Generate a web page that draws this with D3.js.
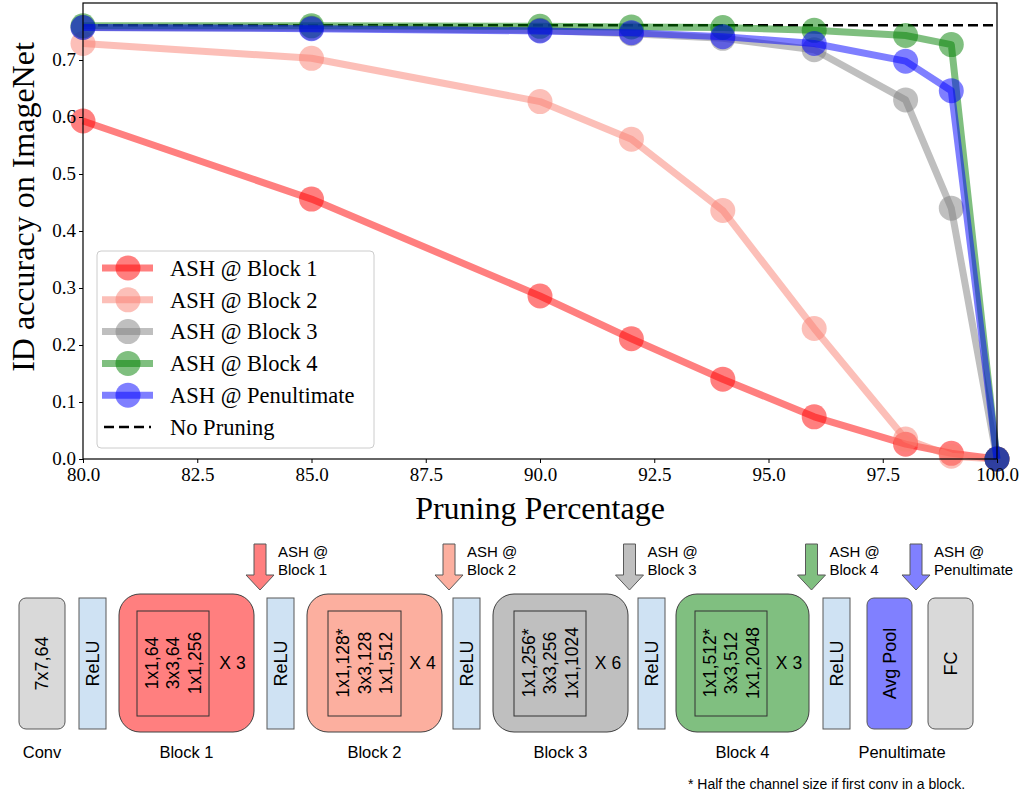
<!DOCTYPE html>
<html>
<head>
<meta charset="utf-8">
<script src="https://cdn.jsdelivr.net/npm/d3@7"></script>
<style>
  html, body { margin: 0; padding: 0; background: #fff; }
  svg { display: block; }
</style>
</head>
<body>
<svg id="chart" width="1026" height="793"></svg>
<script>
// Pruning percentage sampled for each ASH placement
const pruning = [80, 85, 90, 92, 94, 96, 98, 99, 100];

// ID accuracy on ImageNet per ASH placement
const block1 = [0.593, 0.456, 0.286, 0.211, 0.140, 0.074, 0.026, 0.010, 0.0];
const block2 = [0.729, 0.703, 0.627, 0.561, 0.436, 0.229, 0.035, 0.005, 0.0];
const block3 = [0.757, 0.756, 0.752, 0.746, 0.738, 0.718, 0.630, 0.440, 0.0];
const block4 = [0.760, 0.760, 0.759, 0.758, 0.757, 0.752, 0.743, 0.727, 0.0];
const penultimate = [0.757, 0.755, 0.751, 0.748, 0.741, 0.729, 0.698, 0.646, 0.0];
const noPruning = 0.761;

const seriesNames = ["ASH @ Block 1", "ASH @ Block 2", "ASH @ Block 3", "ASH @ Block 4", "ASH @ Penultimate"];
const seriesValues = [block1, block2, block3, block4, penultimate];
const seriesColors = ["red", "salmon", "gray", "green", "blue"];

const xTicks = [80, 82.5, 85, 87.5, 90, 92.5, 95, 97.5, 100];
const yTicks = [0, 0.1, 0.2, 0.3, 0.4, 0.5, 0.6, 0.7];

// Network diagram contents
const blockLabels = ["Block 1", "Block 2", "Block 3", "Block 4"];
const blockLayers = [
  ["1x1,64", "3x3,64", "1x1,256"],
  ["1x1,128*", "3x3,128", "1x1,512"],
  ["1x1,256*", "3x3,256", "1x1,1024"],
  ["1x1,512*", "3x3,512", "1x1,2048"]
];
const blockRepeats = ["X 3", "X 4", "X 6", "X 3"];
const arrowLabels = ["Block 1", "Block 2", "Block 3", "Block 4", "Penultimate"];

const svg = d3.select("#chart");
const serif = "'Liberation Serif', 'DejaVu Serif', serif";
const sans = "'Liberation Sans', Arial, sans-serif";

// ---------- Line chart ----------
const plot = { left: 83, right: 997, top: 3, bottom: 459 };
const x = d3.scaleLinear().domain([80, 100]).range([plot.left, plot.right]);
const y = d3.scaleLinear().domain([0, 0.8]).range([plot.bottom, plot.top]);

const chart = svg.append("g");

chart.append("rect")
  .attr("x", plot.left).attr("y", plot.top)
  .attr("width", plot.right - plot.left).attr("height", plot.bottom - plot.top)
  .attr("fill", "#fff");

const marks = chart.append("g");

// reference line without pruning
marks.append("line")
  .attr("x1", x(80)).attr("x2", x(100))
  .attr("y1", y(noPruning)).attr("y2", y(noPruning))
  .attr("stroke", "#000").attr("stroke-width", 2.6)
  .attr("stroke-dasharray", "10,5");

const line = d3.line().x((d, i) => x(pruning[i])).y(d => y(d));

seriesValues.forEach((vals, k) => {
  const g = marks.append("g");
  g.append("path")
    .datum(vals)
    .attr("d", line)
    .attr("fill", "none")
    .attr("stroke", seriesColors[k])
    .attr("stroke-opacity", 0.5)
    .attr("stroke-width", 7)
    .attr("stroke-linejoin", "round");
  g.selectAll("circle")
    .data(vals)
    .join("circle")
    .attr("cx", (d, i) => x(pruning[i]))
    .attr("cy", d => y(d))
    .attr("r", 12.5)
    .attr("fill", seriesColors[k])
    .attr("fill-opacity", 0.5);
});

// axes
const xAxis = chart.append("g")
  .attr("transform", `translate(0,${plot.bottom})`)
  .call(d3.axisBottom(x).tickValues(xTicks).tickFormat(d3.format(".1f")).tickSize(4).tickPadding(5));
const yAxis = chart.append("g")
  .attr("transform", `translate(${plot.left},0)`)
  .call(d3.axisLeft(y).tickValues(yTicks).tickFormat(d3.format(".1f")).tickSize(4).tickPadding(3));
[xAxis, yAxis].forEach(a => {
  a.select(".domain").remove();
  a.selectAll(".tick line").attr("stroke", "#000").attr("stroke-width", 1);
  a.selectAll(".tick text").attr("font-family", serif).attr("font-size", 19).attr("fill", "#000");
});
yAxis.selectAll(".tick text").attr("dy", "0.3em");

// frame
chart.append("rect")
  .attr("x", plot.left).attr("y", plot.top)
  .attr("width", plot.right - plot.left).attr("height", plot.bottom - plot.top)
  .attr("fill", "none").attr("stroke", "#000").attr("stroke-width", 1.2);

// axis titles
chart.append("text")
  .attr("x", (plot.left + plot.right) / 2).attr("y", 519)
  .attr("text-anchor", "middle")
  .attr("font-family", serif).attr("font-size", 32)
  .text("Pruning Percentage");
chart.append("text")
  .attr("transform", `translate(34,207) rotate(-90)`)
  .attr("text-anchor", "middle")
  .attr("font-family", serif).attr("font-size", 32)
  .text("ID accuracy on ImageNet");

// legend
const legend = chart.append("g");
legend.append("rect")
  .attr("x", 97).attr("y", 251).attr("width", 277).attr("height", 197)
  .attr("rx", 4)
  .attr("fill", "#fff").attr("fill-opacity", 0.8)
  .attr("stroke", "#ccc").attr("stroke-width", 1);
const legendNames = seriesNames.concat(["No Pruning"]);
legendNames.forEach((name, k) => {
  const ly = 268 + k * 31.8;
  if (k < seriesNames.length) {
    legend.append("line")
      .attr("x1", 102).attr("x2", 153).attr("y1", ly).attr("y2", ly)
      .attr("stroke", seriesColors[k]).attr("stroke-opacity", 0.5).attr("stroke-width", 7);
    legend.append("circle")
      .attr("cx", 128).attr("cy", ly).attr("r", 12.5)
      .attr("fill", seriesColors[k]).attr("fill-opacity", 0.5);
  } else {
    legend.append("line")
      .attr("x1", 104).attr("x2", 151).attr("y1", ly).attr("y2", ly)
      .attr("stroke", "#000").attr("stroke-width", 2.6).attr("stroke-dasharray", "10,5");
  }
  legend.append("text")
    .attr("x", 170).attr("y", ly).attr("dy", "0.35em")
    .attr("font-family", serif).attr("font-size", 22.5)
    .text(name);
});

// ---------- Network diagram ----------
const diag = svg.append("g").attr("font-family", sans);
const boxTop = 598, boxBottom = 729;
const boxMid = (boxTop + boxBottom) / 2;

function vtext(cx, cy, str, size, color) {
  diag.append("text")
    .attr("transform", `translate(${cx},${cy}) rotate(-90)`)
    .attr("text-anchor", "middle")
    .attr("dy", "0.36em")
    .attr("font-size", size)
    .attr("fill", color || "#000")
    .text(str);
}

function smallBox(x0, x1, fill, label, rx) {
  diag.append("rect")
    .attr("x", x0).attr("y", boxTop).attr("width", x1 - x0).attr("height", boxBottom - boxTop)
    .attr("rx", rx).attr("fill", fill).attr("stroke", "#595959").attr("stroke-width", 1);
  vtext((x0 + x1) / 2, boxMid, label, 18);
}

// conv stem, activations, pooling and classifier
smallBox(19, 65, "#d9d9d9", "7x7,64", 7);
const reluX = [79, 267, 453, 638, 823];
reluX.forEach(rx0 => smallBox(rx0, rx0 + 27, "#cfe2f3", "ReLU", 0));
smallBox(867, 912, "#8080ff", "Avg Pool", 7);
smallBox(928, 973, "#d9d9d9", "FC", 7);

// residual stages
const blockX = [[119, 254], [307, 442], [493, 628], [676, 809]];
const innerX = [[137, 209], [328, 401], [514, 586], [695, 767]];
const blockFill = ["#ff7f7f", "#fcaf9f", "#bfbfbf", "#80bf80"];
blockX.forEach((bx, k) => {
  diag.append("rect")
    .attr("x", bx[0]).attr("y", 594).attr("width", bx[1] - bx[0]).attr("height", 138)
    .attr("rx", 21).attr("fill", blockFill[k]).attr("stroke", "#404040").attr("stroke-width", 1);
  const ix = innerX[k];
  diag.append("rect")
    .attr("x", ix[0]).attr("y", 611).attr("width", ix[1] - ix[0]).attr("height", 105)
    .attr("fill", "none").attr("stroke", "#333").attr("stroke-width", 1);
  const cx = (ix[0] + ix[1]) / 2;
  blockLayers[k].forEach((s, j) => vtext(cx + (j - 1) * 21.5, 663, s, 17.5));
  diag.append("text")
    .attr("x", (ix[1] + bx[1]) / 2 + 1).attr("y", 663).attr("dy", "0.36em")
    .attr("text-anchor", "middle").attr("font-size", 17.5)
    .text(blockRepeats[k]);
  diag.append("text")
    .attr("x", (bx[0] + bx[1]) / 2).attr("y", 758)
    .attr("text-anchor", "middle").attr("font-size", 16.5)
    .text(blockLabels[k]);
});
diag.append("text").attr("x", 42).attr("y", 758).attr("text-anchor", "middle").attr("font-size", 16.5).text("Conv");
diag.append("text").attr("x", 902).attr("y", 758).attr("text-anchor", "middle").attr("font-size", 16.5).text("Penultimate");

// ASH insertion arrows
const arrowX = [260, 449, 629.5, 811.5, 916];
const arrowFill = ["#ff7f7f", "#fcaf9f", "#bfbfbf", "#80bf80", "#8080ff"];
arrowX.forEach((ax, k) => {
  const pts = [
    [ax - 6, 544], [ax + 6, 544], [ax + 6, 575], [ax + 14, 575],
    [ax, 590], [ax - 14, 575], [ax - 6, 575]
  ];
  diag.append("polygon")
    .attr("points", pts.map(p => p.join(",")).join(" "))
    .attr("fill", arrowFill[k]).attr("stroke", "#595959").attr("stroke-width", 1);
  const t = diag.append("text").attr("x", ax + 18).attr("font-size", 15);
  t.append("tspan").attr("x", ax + 18).attr("y", 557).text("ASH @");
  t.append("tspan").attr("x", ax + 18).attr("y", 575).text(arrowLabels[k]);
});

diag.append("text")
  .attr("x", 688).attr("y", 789).attr("font-size", 14)
  .text("* Half the channel size if first conv in a block.");
</script>
</body>
</html>
